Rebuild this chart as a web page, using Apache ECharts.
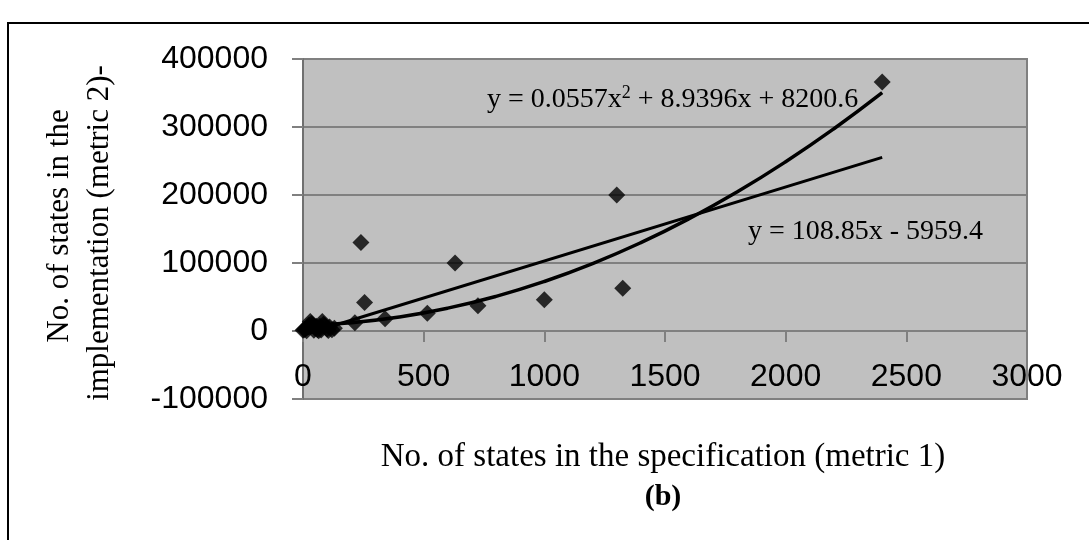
<!DOCTYPE html>
<html><head><meta charset="utf-8">
<script src="https://cdn.jsdelivr.net/npm/echarts@6/dist/echarts.min.js"></script>
<style>html,body{margin:0;padding:0;background:#fff}#c{width:1089px;height:540px}</style>
</head><body><div id="c"></div>
<script>
// Observed data points (metric 1 vs metric 2)
const specStates = [0, 5, 10, 15, 20, 25, 30, 35, 40, 45, 50, 55, 60, 65, 70, 75, 80, 85, 90, 100, 105, 110, 120, 130,
  215, 240, 255, 340, 515, 630, 725, 1000, 1300, 1325, 2400];
const implStates = [1000, 2000, 3000, 500, 6000, 9000, 14000, 11000, 9000, 1000, 4000, 7000, 2000, 500, 7000, 1500, 14000, 10000, 8000, 3000, 800, 6000, 2000, 4000,
  12000, 130000, 42000, 18000, 26000, 100000, 37000, 46000, 200000, 63000, 366000];
// Polynomial trendline as drawn: y = 0.0557x^2 + 8.9396x + 8200.6
const polyX = [0, 200, 400, 600, 800, 1000, 1200, 1400, 1600, 1800, 2000, 2200, 2400];
const polyY = [8201, 12217, 20688, 33616, 51000, 72840, 99136, 129888, 165096, 204760, 248880, 297456, 350488];
// Linear trendline as drawn: y = 108.85x - 5959.4
const linX = [0, 2400];
const linY = [-5959.4, 255280.6];
// Axis ticks
const xTickMin = 0, xTickMax = 3000, xTickStep = 500;
const yTickMin = -100000, yTickMax = 400000, yTickStep = 100000;
// Texts
const xTitle = 'No. of states in the specification (metric 1)';
const yTitle1 = 'No. of states in the';
const yTitle2 = 'implementation (metric 2)-';
const caption = '(b)';
const polyEq = ['y = 0.0557x', '2', ' + 8.9396x + 8200.6'];
const linEq = 'y = 108.85x - 5959.4';

const SERIF = "'Liberation Serif','Times New Roman',serif";
const SANS = "'Liberation Sans',Arial,sans-serif";

const chart = echarts.init(document.getElementById('c'), null, {renderer: 'canvas'});
chart.setOption({
  animation: false,
  backgroundColor: '#ffffff',
  grid: {left: 303, top: 59, width: 724, height: 340, show: true,
    backgroundColor: '#c0c0c0', borderColor: '#808080', borderWidth: 2},
  xAxis: {
    type: 'value', min: xTickMin, max: xTickMax, interval: xTickStep,
    axisLine: {show: true, onZero: true, lineStyle: {color: '#808080', width: 2}},
    axisTick: {show: true, inside: false, length: 11, lineStyle: {color: '#808080', width: 2}},
    axisLabel: {color: '#000', fontFamily: SANS, fontSize: 32, margin: -38, formatter: v => String(v)},
    splitLine: {show: false}
  },
  yAxis: {
    type: 'value', min: yTickMin, max: yTickMax, interval: yTickStep,
    axisLine: {show: true, onZero: false, lineStyle: {color: '#707070', width: 2}},
    axisTick: {show: true, inside: false, length: 11, lineStyle: {color: '#808080', width: 2}},
    axisLabel: {color: '#000', fontFamily: SANS, fontSize: 32, margin: 35, formatter: v => String(v)},
    splitLine: {show: true, lineStyle: {color: '#808080', width: 2}}
  },
  series: [
    {type: 'line', data: linX.map((x, i) => [x, linY[i]]), showSymbol: false, symbol: 'none',
      lineStyle: {color: '#000', width: 3}, z: 3, silent: true},
    {type: 'line', data: polyX.map((x, i) => [x, polyY[i]]), smooth: true, showSymbol: false, symbol: 'none',
      lineStyle: {color: '#000', width: 3.5}, z: 3, silent: true},
    {type: 'scatter', data: specStates.map((x, i) => [x, implStates[i]]), symbol: 'diamond',
      symbolSize: 17, itemStyle: {color: '#000'}, z: 4}
  ],
  graphic: [
    {type: 'polyline', shape: {points: [[8, 540], [8, 23], [1089, 23]]},
      style: {stroke: '#000', lineWidth: 2, fill: null}},
    {type: 'text', x: 663, y: 457, style: {text: xTitle, font: '33px ' + SERIF, fill: '#000',
      align: 'center', verticalAlign: 'middle'}},
    {type: 'text', x: 663, y: 497, style: {text: caption, font: 'bold 30px ' + SERIF, fill: '#000',
      align: 'center', verticalAlign: 'middle'}},
    {type: 'text', x: 60, y: 226, rotation: Math.PI / 2, style: {text: yTitle1, font: '31px ' + SERIF, fill: '#000',
      align: 'center', verticalAlign: 'middle'}},
    {type: 'text', x: 100, y: 233, rotation: Math.PI / 2, style: {text: yTitle2, font: '31px ' + SERIF, fill: '#000',
      align: 'center', verticalAlign: 'middle'}},
    {type: 'text', x: 487, y: 100, style: {
      text: '{a|' + polyEq[0] + '}{s|' + polyEq[1] + '}{a|' + polyEq[2] + '}',
      align: 'left', verticalAlign: 'middle',
      rich: {a: {font: '28px ' + SERIF, fill: '#000', color: '#000'},
             s: {font: '18px ' + SERIF, fill: '#000', color: '#000', verticalAlign: 'top', padding: [0, 0, 14, 0]}}}},
    {type: 'text', x: 748, y: 232, style: {text: linEq, font: '28px ' + SERIF, fill: '#000',
      align: 'left', verticalAlign: 'middle'}}
  ]
});
</script>
</body></html>
